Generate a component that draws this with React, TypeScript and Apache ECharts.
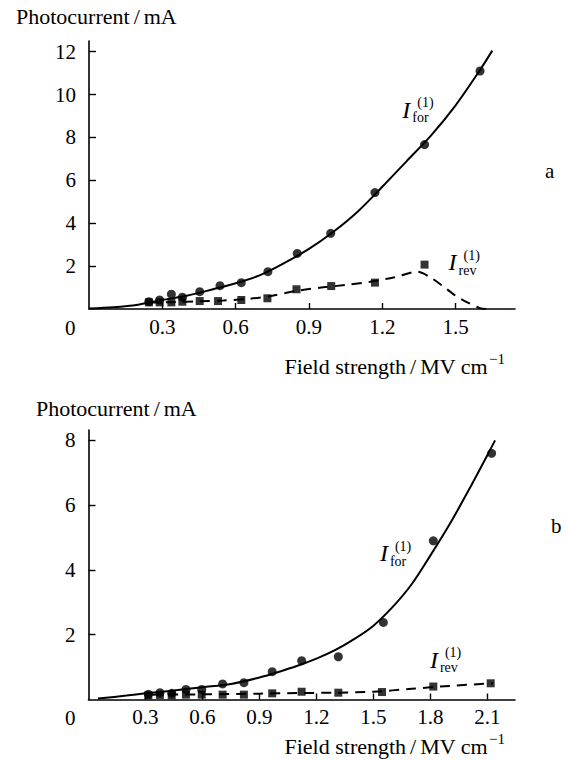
import React, { useEffect, useRef } from "react";
import * as echarts from "echarts";

const SERIF = "Liberation Serif";

// ---------- Panel a ----------
const aForX = [0.245, 0.289, 0.337, 0.382, 0.453, 0.536, 0.623, 0.732, 0.852, 0.989, 1.17, 1.373, 1.6];
const aForY = [0.34, 0.42, 0.69, 0.55, 0.81, 1.09, 1.23, 1.74, 2.59, 3.53, 5.43, 7.67, 11.1];
const aRevX = [0.245, 0.289, 0.337, 0.382, 0.453, 0.528, 0.623, 0.73, 0.849, 0.991, 1.17, 1.373];
const aRevY = [0.31, 0.31, 0.31, 0.34, 0.37, 0.37, 0.42, 0.5, 0.92, 1.07, 1.23, 2.07];
const aForFitX = [0, 0.1, 0.2, 0.3, 0.4, 0.5, 0.6, 0.7, 0.8, 0.9, 1.0, 1.1, 1.2, 1.3, 1.4, 1.5, 1.6, 1.65];
const aForFitY = [0.02, 0.08, 0.2, 0.42, 0.62, 0.9, 1.2, 1.58, 2.15, 2.8, 3.6, 4.55, 5.7, 6.9, 8.1, 9.5, 11.15, 12.05];
const aRevFitX = [0.245, 0.35, 0.45, 0.55, 0.65, 0.75, 0.85, 0.95, 1.05, 1.15, 1.25, 1.343, 1.4, 1.45, 1.5, 1.55, 1.6, 1.63];
const aRevFitY = [0.3, 0.32, 0.36, 0.4, 0.47, 0.62, 0.85, 1.0, 1.12, 1.27, 1.48, 1.74, 1.45, 1.05, 0.62, 0.3, 0.04, 0];
const aXTicks = [0.3, 0.6, 0.9, 1.2, 1.5];
const aYTicks = [2, 4, 6, 8, 10, 12];

// ---------- Panel b ----------
const bForX = [0.315, 0.376, 0.438, 0.513, 0.596, 0.706, 0.818, 0.967, 1.122, 1.315, 1.552, 1.815, 2.122];
const bForY = [0.16, 0.21, 0.19, 0.31, 0.31, 0.48, 0.52, 0.86, 1.2, 1.32, 2.38, 4.9, 7.6];
const bRevX = [0.315, 0.376, 0.438, 0.513, 0.596, 0.706, 0.818, 0.967, 1.122, 1.315, 1.545, 1.815, 2.117];
const bRevY = [0.13, 0.14, 0.13, 0.15, 0.15, 0.15, 0.15, 0.19, 0.24, 0.21, 0.23, 0.4, 0.5];
const bForFitX = [0.05, 0.2, 0.3, 0.45, 0.6, 0.75, 0.9, 1.0, 1.1, 1.2, 1.3, 1.4, 1.5, 1.6, 1.7, 1.8, 1.9, 2.0, 2.1, 2.14];
const bForFitY = [0.03, 0.12, 0.19, 0.28, 0.38, 0.48, 0.68, 0.85, 1.04, 1.26, 1.53, 1.87, 2.28, 2.85, 3.55, 4.45, 5.4, 6.45, 7.55, 8.0];
const bRevFitX = [0.33, 0.6, 0.9, 1.1, 1.3, 1.5, 1.7, 1.9, 2.13];
const bRevFitY = [0.15, 0.16, 0.18, 0.2, 0.21, 0.24, 0.33, 0.42, 0.5];
const bXTicks = [0.3, 0.6, 0.9, 1.2, 1.5, 1.8, 2.1];
const bYTicks = [2, 4, 6, 8];

const zip = (xs: number[], ys: number[]) => xs.map((x, i) => [x, ys[i]]);

const BLACK = "#000";

let measureCtx: CanvasRenderingContext2D | null = null;
function measure(text: string, size: number): number {
  if (!measureCtx) measureCtx = document.createElement("canvas").getContext("2d");
  if (!measureCtx) return text.length * size * 0.5;
  measureCtx.font = `${size}px "${SERIF}"`;
  return measureCtx.measureText(text).width;
}

type Part = { text: string; size: number; dy?: number; padL?: number; padR?: number };

// Lays a line of text pieces side by side (used for slash spacing and superscripts).
function composed(parts: Part[], x: number, y: number, anchorRight = false) {
  const widths = parts.map((p) => (p.padL || 0) + measure(p.text, p.size) + (p.padR || 0));
  const total = widths.reduce((s, w) => s + w, 0);
  let cx = anchorRight ? x - total : x;
  const children = parts.map((p, i) => {
    const el = {
      type: "text",
      x: cx + (p.padL || 0),
      y: y + (p.dy || 0),
      style: { text: p.text, fontFamily: SERIF, fontSize: p.size, fill: BLACK, verticalAlign: "middle", align: "left" },
    };
    cx += widths[i];
    return el;
  });
  return { type: "group", children };
}

const yTitleParts: Part[] = [
  { text: "Photocurrent", size: 22 },
  { text: "/", size: 22, padL: 4, padR: 4 },
  { text: "mA", size: 22 },
];
const xTitleParts: Part[] = [
  { text: "Field strength", size: 22 },
  { text: "/", size: 22, padL: 4, padR: 4 },
  { text: "MV cm", size: 22 },
  { text: "−1", size: 15, dy: -7, padL: 1 },
];

function xAxis(gridIndex: number, max: number, ticks: number[]) {
  return {
    type: "value",
    gridIndex,
    min: 0,
    max,
    axisLine: { show: true, onZero: false, lineStyle: { color: BLACK, width: 1.6 } },
    axisTick: { show: true, inside: true, length: 6, customValues: ticks, lineStyle: { color: BLACK, width: 1.4 } },
    axisLabel: {
      customValues: ticks,
      formatter: (v: number) => v.toFixed(1),
      fontSize: 21,
      fontFamily: SERIF,
      color: BLACK,
      margin: 7,
    },
    splitLine: { show: false },
  };
}

function yAxis(gridIndex: number, max: number, ticks: number[]) {
  return {
    type: "value",
    gridIndex,
    min: 0,
    max,
    axisLine: { show: true, onZero: false, lineStyle: { color: BLACK, width: 1.6 } },
    axisTick: { show: true, inside: true, length: 7, customValues: ticks, lineStyle: { color: BLACK, width: 1.4 } },
    axisLabel: {
      customValues: ticks,
      formatter: (v: number) => String(v),
      fontSize: 21,
      fontFamily: SERIF,
      color: BLACK,
      margin: 13,
    },
    splitLine: { show: false },
  };
}

function fitLine(idx: number, data: number[][], dashed: boolean) {
  return {
    type: "line",
    xAxisIndex: idx,
    yAxisIndex: idx,
    data,
    showSymbol: false,
    smooth: 0.3,
    lineStyle: { color: BLACK, width: 2, type: dashed ? [10, 7] : "solid" },
    z: 2,
  };
}

function points(idx: number, data: number[][], symbol: string, size: number) {
  return {
    type: "scatter",
    xAxisIndex: idx,
    yAxisIndex: idx,
    data,
    symbol,
    symbolSize: size,
    itemStyle: { color: BLACK },
    z: 3,
  };
}

function plainText(text: string, left: number, top: number) {
  return { type: "text", left, top, style: { text, fontFamily: SERIF, fontSize: 21, fill: BLACK } };
}

function currentLabel(pt: number[], sub: string) {
  const txt = (text: string, x: number, y: number, size: number, italic = false) => ({
    type: "text",
    x,
    y,
    style: {
      text,
      fontSize: size,
      fontFamily: SERIF,
      fontStyle: italic ? "italic" : "normal",
      fill: BLACK,
      verticalAlign: "middle",
      align: "left",
    },
  });
  return {
    type: "group",
    x: pt[0],
    y: pt[1],
    children: [txt("I", 0, 0, 24, true), txt("(1)", 15, -7, 14), txt(sub, 10, 8, 14)],
  };
}

export default function App() {
  const ref = useRef<HTMLDivElement>(null);
  useEffect(() => {
    document.body.style.margin = "0";
    const chart = echarts.init(ref.current!, undefined, { renderer: "svg" });
    const option: any = {
      animation: false,
      backgroundColor: "#fff",
      grid: [
        { left: 89, top: 41, width: 426, height: 268 },
        { left: 88.5, top: 430, width: 426.5, height: 269.5 },
      ],
      xAxis: [xAxis(0, 1.743, aXTicks), xAxis(1, 2.245, bXTicks)],
      yAxis: [yAxis(0, 12.5, aYTicks), yAxis(1, 8.32, bYTicks)],
      series: [
        fitLine(0, zip(aForFitX, aForFitY), false),
        fitLine(0, zip(aRevFitX, aRevFitY), true),
        points(0, zip(aForX, aForY), "circle", 9),
        points(0, zip(aRevX, aRevY), "rect", 8),
        fitLine(1, zip(bForFitX, bForFitY), false),
        fitLine(1, zip(bRevFitX, bRevFitY), true),
        points(1, zip(bForX, bForY), "circle", 9),
        points(1, zip(bRevX, bRevY), "rect", 8),
      ],
    };
    chart.setOption(option);
    const px = (g: number, p: number[]) => chart.convertToPixel({ gridIndex: g } as any, p) as number[];
    chart.setOption({
      graphic: [
        composed(yTitleParts, 16, 16),
        composed(yTitleParts, 36, 408),
        composed(xTitleParts, 505, 366, true),
        composed(xTitleParts, 505, 746, true),
        plainText("0", 65, 317),
        plainText("0", 65, 707),
        plainText("a", 545, 160),
        plainText("b", 551, 515),
        currentLabel(px(0, [1.282, 9.29]), "for"),
        currentLabel(px(0, [1.471, 2.19]), "rev"),
        currentLabel(px(1, [1.534, 4.52]), "for"),
        currentLabel(px(1, [1.797, 1.22]), "rev"),
      ],
    });
    return () => chart.dispose();
  }, []);
  return <div ref={ref} style={{ width: 567, height: 760 }} />;
}
